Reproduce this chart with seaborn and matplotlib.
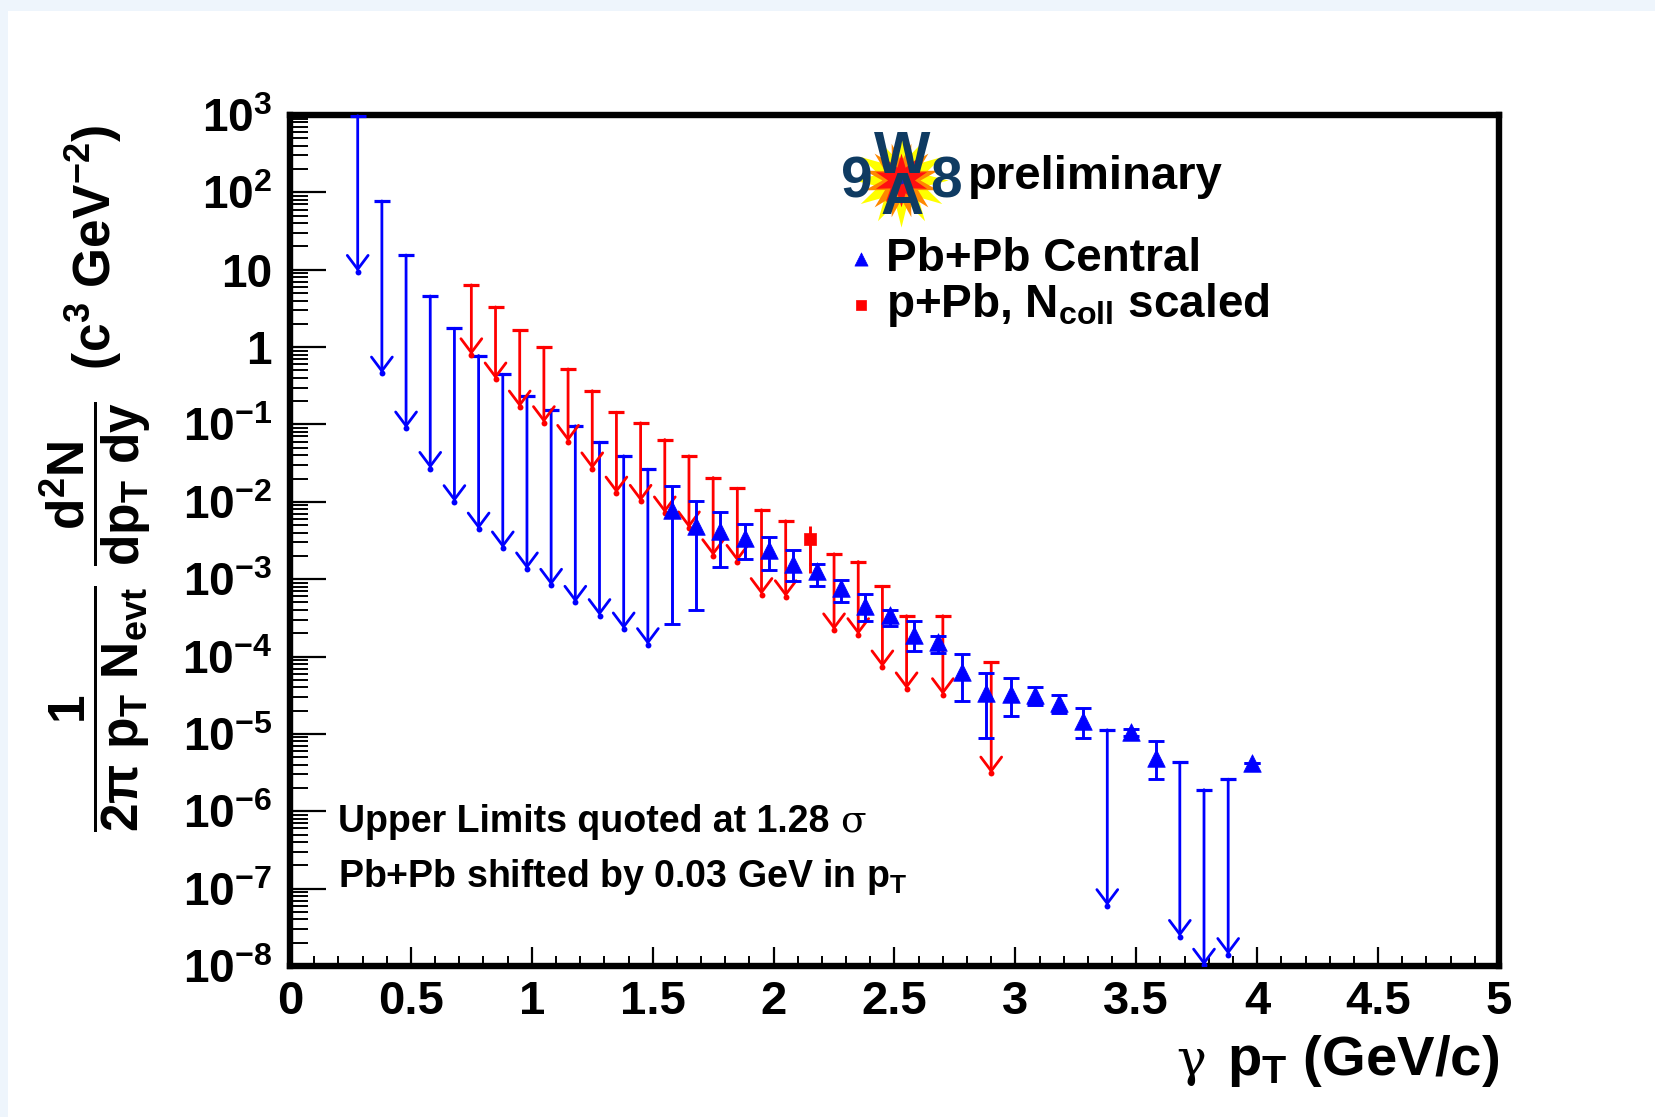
import numpy as np
import pandas as pd
import matplotlib
matplotlib.use("Agg")
import matplotlib.pyplot as plt
import seaborn as sns
from matplotlib.ticker import FixedLocator, FixedFormatter, LogLocator, MultipleLocator, NullFormatter

# ---------------- data ----------------
# Pb+Pb central: measured points (shifted by +0.03 GeV)
pbpb_x = [1.58, 1.68, 1.78, 1.88, 1.98, 2.08, 2.18, 2.28, 2.38, 2.48, 2.58, 2.68,
          2.78, 2.88, 2.98, 3.08, 3.18, 3.28, 3.48, 3.58, 3.98]
pbpb_y = [7.9e-3, 4.94e-3, 4.14e-3, 3.40e-3, 2.40e-3, 1.57e-3, 1.26e-3, 7.7e-4, 4.45e-4,
          3.47e-4, 1.91e-4, 1.52e-4, 6.4e-5, 3.37e-5, 3.3e-5, 3.2e-5, 2.5e-5, 1.45e-5,
          1.05e-5, 4.9e-6, 4.2e-6]
pbpb_hi = [1.61e-2, 1.01e-2, 7.28e-3, 5.2e-3, 3.49e-3, 2.35e-3, 1.55e-3, 9.8e-4, 6.4e-4,
           3.98e-4, 2.9e-4, 1.82e-4, 1.08e-4, 6.2e-5, 5.3e-5, 4.0e-5, 3.2e-5, 2.16e-5,
           1.17e-5, 8.2e-6, 4.2e-6]
pbpb_lo = [2.63e-4, 3.94e-4, 1.43e-3, 1.84e-3, 1.32e-3, 9.6e-4, 8.2e-4, 5.0e-4, 2.84e-4,
           2.45e-4, 1.19e-4, 1.11e-4, 2.7e-5, 8.9e-6, 1.7e-5, 2.33e-5, 1.86e-5, 8.9e-6,
           9.3e-6, 2.6e-6, 4.2e-6]
# Pb+Pb central: upper limits (1.28 sigma)
pbpb_ul_x = [0.28, 0.38, 0.48, 0.58, 0.68, 0.78, 0.88, 0.98, 1.08, 1.18, 1.28, 1.38, 1.48,
             3.38, 3.68, 3.78, 3.88]
pbpb_ul_top = [980, 77.4, 15.5, 4.58, 1.75, 0.778, 0.446, 0.234, 0.155, 0.096, 0.059,
               0.0393, 0.0264, 1.13e-5, 4.3e-6, 1.9e-6, 2.6e-6]
pbpb_ul_tip = [9.46, 0.459, 0.0895, 0.0269, 0.0100, 4.42e-3, 2.52e-3, 1.35e-3, 8.3e-4,
               5.0e-4, 3.37e-4, 2.26e-4, 1.42e-4, 6.0e-8, 2.4e-8, 1.02e-8, 1.4e-8]
# p+Pb, Ncoll scaled: measured point
ppb_x = [2.15]
ppb_y = [3.3e-3]
ppb_hi = [4.8e-3]
ppb_lo = [1.2e-3]
# p+Pb, Ncoll scaled: upper limits
ppb_ul_x = [0.75, 0.85, 0.95, 1.05, 1.15, 1.25, 1.35, 1.45, 1.55, 1.65, 1.75, 1.85, 1.95,
            2.05, 2.25, 2.35, 2.45, 2.55, 2.70, 2.90]
ppb_ul_top = [6.37, 3.30, 1.64, 0.995, 0.522, 0.273, 0.144, 0.105, 0.0638, 0.0393, 0.0206,
              0.0150, 7.89e-3, 5.69e-3, 2.13e-3, 1.69e-3, 8.1e-4, 3.37e-4, 3.37e-4, 8.4e-5]
ppb_ul_tip = [0.792, 0.385, 0.167, 0.105, 0.0601, 0.0265, 0.0129, 0.0101, 7.14e-3, 4.57e-3,
              2.0e-3, 1.69e-3, 6.3e-4, 5.9e-4, 2.2e-4, 1.91e-4, 7.3e-5, 3.8e-5, 3.2e-5, 3.1e-6]

y_ticks = [1e3, 1e2, 1e1, 1, 1e-1, 1e-2, 1e-3, 1e-4, 1e-5, 1e-6, 1e-7, 1e-8]
y_tick_labels = [r"$10^{3}$", r"$10^{2}$", "10", "1", r"$10^{-1}$", r"$10^{-2}$", r"$10^{-3}$",
                 r"$10^{-4}$", r"$10^{-5}$", r"$10^{-6}$", r"$10^{-7}$", r"$10^{-8}$"]
x_ticks = [0, 0.5, 1, 1.5, 2, 2.5, 3, 3.5, 4, 4.5, 5]
x_tick_labels = ["0", "0.5", "1", "1.5", "2", "2.5", "3", "3.5", "4", "4.5", "5"]

# ---------------- style ----------------
sns.set_theme(style="white")
plt.rcParams.update({
    "font.family": ["Liberation Sans", "DejaVu Sans"],
    "font.weight": "bold",
    "text.color": "black",
    "axes.labelcolor": "black",
    "xtick.color": "black",
    "ytick.color": "black",
    "mathtext.fontset": "custom",
    "mathtext.rm": "Liberation Sans:bold",
    "mathtext.it": "Liberation Sans:bold",
    "mathtext.bf": "Liberation Sans:bold",
    "mathtext.sf": "Liberation Sans:bold",
    "mathtext.default": "regular",
})

BLUE = "#0000ff"
RED = "#ff0000"

W, H = 1656, 1117
fig = plt.figure(figsize=(W / 100, H / 100), dpi=100)
fig.patch.set_facecolor("#eef5fc")
fig.add_artist(plt.Rectangle((8 / W, 0), 1, 1 - 11 / H, transform=fig.transFigure,
                             facecolor="white", edgecolor="none", zorder=-10))

L, R, T, B = 290, 1499, 115, 966
ax = fig.add_axes([L / W, 1 - B / H, (R - L) / W, (B - T) / H])
ax.set_facecolor("white")
ax.set_yscale("log")
ax.set_xlim(0, 5)
ax.set_ylim(1e-8, 1e3)

# ---- upper-limit arrows ----
def draw_uls(xs, tops, tips, color):
    for xv, tp, tv in zip(xs, tops, tips):
        ax.annotate("", xy=(xv, tv), xytext=(xv, tp),
                    arrowprops=dict(arrowstyle="->,head_length=1.0,head_width=0.75",
                                    color=color, lw=2.0, shrinkA=0, shrinkB=0,
                                    mutation_scale=10),
                    annotation_clip=False, zorder=3)
    ax.scatter(xs, tops, marker="_", s=130, linewidths=2.3, color=color, zorder=3)
    ax.scatter(xs, tips, marker="o", s=18, color=color, linewidths=0, zorder=3)

draw_uls(pbpb_ul_x, pbpb_ul_top, pbpb_ul_tip, BLUE)
draw_uls(ppb_ul_x, ppb_ul_top, ppb_ul_tip, RED)

# ---- measured points ----
pb = pd.DataFrame({"pt": pbpb_x, "y": pbpb_y, "hi": pbpb_hi, "lo": pbpb_lo})
pp = pd.DataFrame({"pt": ppb_x, "y": ppb_y, "hi": ppb_hi, "lo": ppb_lo})

ax.errorbar(pb["pt"], pb["y"], yerr=[pb["y"] - pb["lo"], pb["hi"] - pb["y"]], fmt="none",
            ecolor=BLUE, elinewidth=2.1, capsize=5.5, capthick=2.1, zorder=4)
ax.errorbar(pp["pt"], pp["y"], yerr=[pp["y"] - pp["lo"], pp["hi"] - pp["y"]], fmt="none",
            ecolor=RED, elinewidth=2.1, capsize=0, zorder=4)

sns.scatterplot(data=pb, x="pt", y="y", marker="^", s=160, color=BLUE, edgecolor=BLUE,
                linewidth=0.5, ax=ax, zorder=5, label="Pb+Pb Central")
sns.scatterplot(data=pp, x="pt", y="y", marker="s", s=85, color=RED, edgecolor=RED,
                linewidth=0.5, ax=ax, zorder=5, label=r"p+Pb, N$_{\rm coll}$ scaled")

# ---- axes styling ----
for sp in ax.spines.values():
    sp.set_linewidth(4.6)
    sp.set_color("black")
    sp.set_visible(True)

ax.yaxis.set_major_locator(FixedLocator(y_ticks))
ax.yaxis.set_major_formatter(FixedFormatter(y_tick_labels))
ax.yaxis.set_minor_locator(LogLocator(base=10, subs=np.arange(2, 10), numticks=50))
ax.yaxis.set_minor_formatter(NullFormatter())
ax.xaxis.set_major_locator(FixedLocator(x_ticks))
ax.xaxis.set_major_formatter(FixedFormatter(x_tick_labels))
ax.xaxis.set_minor_locator(MultipleLocator(0.1))

ax.tick_params(axis="y", which="major", direction="in", length=26, width=1.6,
               labelsize=33, pad=13, left=True, right=False, colors="black")
ax.tick_params(axis="y", which="minor", direction="in", length=13, width=1.4,
               left=True, right=False, colors="black")
ax.tick_params(axis="x", which="major", direction="in", length=14, width=1.6,
               labelsize=34, pad=10, bottom=True, top=False, colors="black")
ax.tick_params(axis="x", which="minor", direction="in", length=7, width=1.4,
               bottom=True, top=False, colors="black")
for lab in ax.get_xticklabels() + ax.get_yticklabels():
    lab.set_fontweight("bold")

ax.set_xlabel("")
ax.set_ylabel("")

# axis titles
fig.text(R / W, 1 - 1061 / H, r"p$_{\rm T}$ (GeV/c)", ha="right", va="center",
         fontsize=40.5, fontweight="bold", color="black")
fig.text(1206 / W, 1 - 1061 / H, "γ", ha="right", va="center", fontsize=36,
         family=["DejaVu Serif"], fontweight="normal", color="black")
fig.text(95 / W, 1 - 478 / H,
         r"$\dfrac{1}{2\pi\ p_{T}\ N_{evt}}\ \dfrac{d^{2}N}{dp_{T}\ dy}$  (c$^{3}$ GeV$^{-2}$)",
         rotation=90, ha="center", va="center", fontsize=37, fontweight="bold", color="black")

# legend
handles, labels = ax.get_legend_handles_labels()
leg = ax.legend(handles, labels, loc="upper left", bbox_to_anchor=(0.457, 0.857),
                frameon=False, fontsize=33, handlelength=0.8, handletextpad=0.15,
                labelspacing=0.0, borderpad=0, borderaxespad=0, markerscale=0.75)
for t in leg.get_texts():
    t.set_fontweight("bold")
    t.set_color("black")

# WA98 preliminary logo
tr = ax.transAxes
ax.scatter([0.505], [0.924], transform=tr, marker=(12, 1, 0), s=4600, color="#ffff00",
           zorder=6, clip_on=False, linewidths=0)
ax.scatter([0.505], [0.924], transform=tr, marker=(12, 1, 15), s=3000, color="#ff8800",
           zorder=6, clip_on=False, linewidths=0)
ax.scatter([0.505], [0.924], transform=tr, marker=(10, 1, 0), s=1500, color="#ff1010",
           zorder=6, clip_on=False, linewidths=0)
ax.scatter([0.505], [0.924], transform=tr, marker="o", s=30, color="#2020c0",
           zorder=6, clip_on=False, linewidths=0)
navy = "#0f3b62"
ax.text(0.5065, 0.926, "W\nA", transform=tr, ha="center", va="center", fontsize=43,
        fontweight="bold", color=navy, zorder=7, linespacing=0.66,
        multialignment="center")
ax.text(0.469, 0.921, "9", transform=tr, ha="center", va="center", fontsize=41,
        fontweight="bold", color=navy, zorder=7)
ax.text(0.5425, 0.921, "8", transform=tr, ha="center", va="center", fontsize=41,
        fontweight="bold", color=navy, zorder=7)
ax.text(0.5605, 0.913, "preliminary", transform=tr, ha="left", va="baseline", fontsize=34,
        fontweight="bold", color="black", zorder=7)

# notes
ax.text(0.040, 0.1575, "Upper Limits quoted at 1.28", transform=tr, ha="left",
        va="baseline", fontsize=27, fontweight="bold", color="black")
ax.text(0.455, 0.1575, "σ", transform=tr, ha="left", va="baseline", fontsize=27,
        family=["DejaVu Serif"], fontweight="normal", color="black")
ax.text(0.040, 0.0928, r"Pb+Pb shifted by 0.03 GeV in p$_{\rm T}$", transform=tr, ha="left",
        va="baseline", fontsize=27, fontweight="bold", color="black")

fig.savefig("out.png", dpi=100, facecolor=fig.get_facecolor())
